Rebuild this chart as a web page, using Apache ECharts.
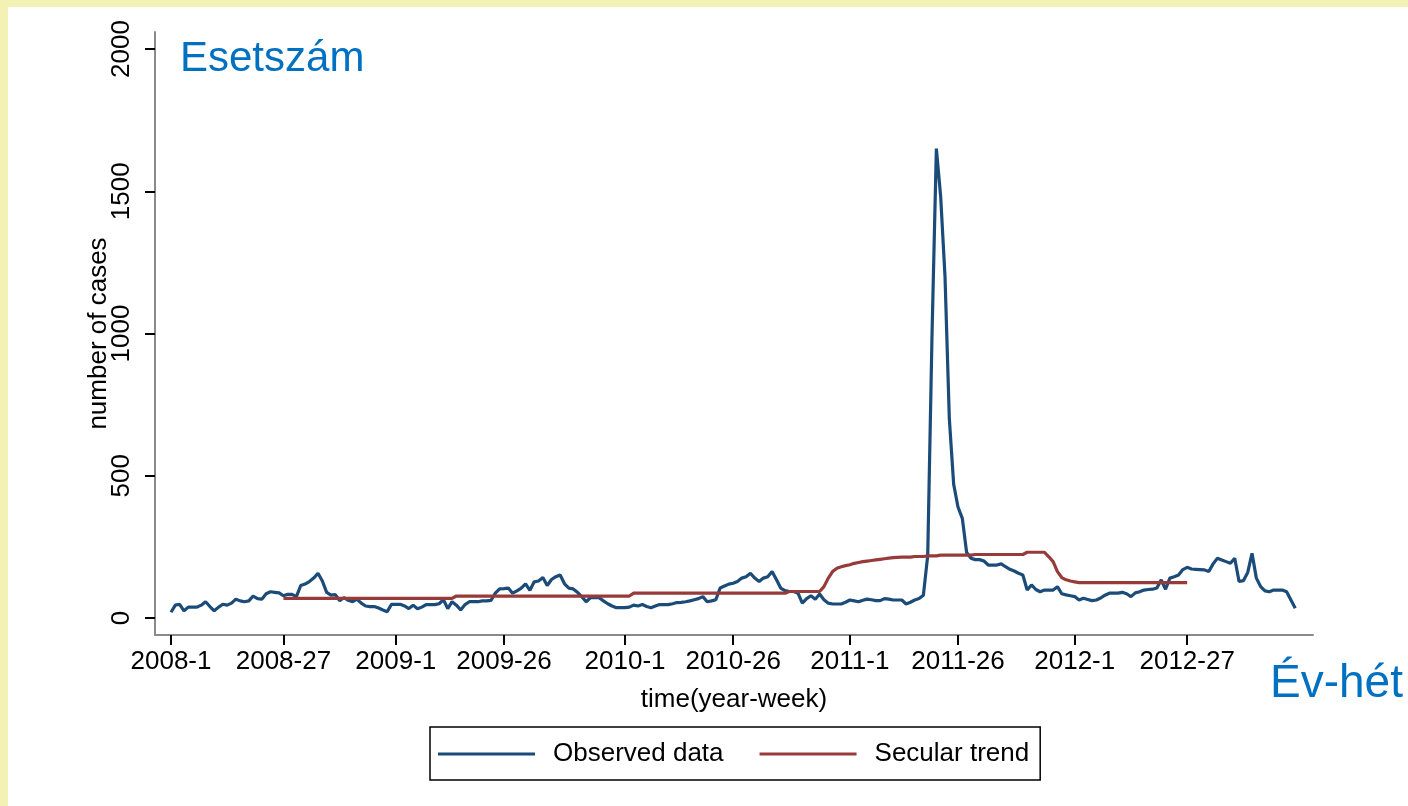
<!DOCTYPE html>
<html><head><meta charset="utf-8">
<script src="https://cdn.jsdelivr.net/npm/echarts@6/dist/echarts.min.js"></script>
<style>html,body{margin:0;padding:0;background:#fff;}#c{width:1408px;height:806px;}</style>
</head><body><div id="c"></div>
<script>
// week index 0 = 2008-1
const tickWeeks = [0, 26, 52, 77, 105, 130, 157, 182, 209, 235];
const tickLabels = ['2008-1','2008-27','2009-1','2009-26','2010-1','2010-26','2011-1','2011-26','2012-1','2012-27'];
const yTicks = [0, 500, 1000, 1500, 2000];

const observed = [
20,45,48,25,38,38,38,45,57,40,25,38,48,45,52,66,60,57,60,77,
68,66,85,92,90,88,78,83,83,75,114,119,128,140,157,130,90,80,82,61,
71,62,57,66,52,42,40,40,35,28,22,48,48,48,42,33,45,32,38,47,
47,47,50,64,33,57,45,28,47,57,57,57,60,60,62,87,102,103,105,87,
95,105,120,97,127,130,142,114,135,145,151,120,105,102,90,75,57,71,71,71,
60,50,42,36,36,36,38,45,42,47,40,36,42,47,47,47,50,54,55,57,
60,64,68,75,57,60,64,105,112,119,122,128,140,145,157,140,128,140,145,163,
135,105,96,93,93,87,52,68,78,66,84,64,52,49,49,49,55,63,60,57,
62,66,64,61,61,68,66,63,63,63,49,55,63,68,80,220,1000,1650,1480,1200,
700,470,390,350,230,210,205,205,200,186,186,186,190,180,171,165,157,151,98,116,
100,92,98,98,98,110,85,81,78,75,63,69,65,61,63,70,80,87,87,87,
90,85,75,88,92,98,100,101,105,134,101,140,145,151,170,178,172,171,170,169,
163,190,210,204,198,192,210,128,131,160,227,140,110,95,92,98,98,98,92,63,
34
];
const trend = [].concat(
  new Array(26).fill(null),
  new Array(40).fill(69),   // 26-65
  new Array(41).fill(77),   // 66-106
  new Array(36).fill(87),   // 107-142
  new Array(8).fill(93),    // 143-150
  [110,140,163,175,180,184,187,192,195,198,200,202,204,206,208,210,212,213,214,214,214,216,216,216,218,218,218], // 151-177
  new Array(8).fill(221),   // 178-185
  new Array(12).fill(223),  // 186-197
  new Array(5).fill(231),   // 198-202
  [215,198,163,142,134,130,127], // 203-209
  new Array(26).fill(124)   // 210-235
);

const hFont = 'Liberation Sans';
const hSize = 26;

const obsData = observed.map((v,i)=>[i,v]);
const trendData = trend.map((v,i)=>[i,v]);
const blue = '#1B4B78', red = '#973A3A';

const chart = echarts.init(document.getElementById('c'), null, {renderer:'canvas'});
chart.setOption({
  backgroundColor: '#F3F2B4',
  animation: false,
  graphic: [{type:'rect', z:-10, shape:{x:8,y:7,width:1400,height:799}, style:{fill:'#ffffff'}}],
  title: [
    {text:'Esetszám', left:180, top:38, padding:0, textStyle:{fontFamily:'Liberation Sans', fontSize:42, fontWeight:'normal', color:'#0070C0'}},
    {text:'Év-hét', left:1270, top:661, padding:0, textStyle:{fontFamily:'Liberation Sans', fontSize:46, fontWeight:'normal', color:'#0070C0'}}
  ],
  grid: {left:155, right:95, top:32, bottom:171, containLabel:false},
  xAxis: {
    type:'value', min:-3.7, max:264.1,
    name:'time(year-week)', nameLocation:'middle', nameGap:52, nameMoveOverlap:false,
    nameTextStyle:{fontFamily:hFont, fontSize:hSize, color:'#000'},
    axisLine:{onZero:false, lineStyle:{color:'#8a8a8a', width:2}},
    axisTick:{show:true, customValues:tickWeeks, length:10, lineStyle:{color:'#000', width:2}},
    axisLabel:{customValues:tickWeeks, margin:14, fontFamily:hFont, fontSize:hSize, color:'#000',
      formatter:(v)=>{const k=tickWeeks.indexOf(Math.round(v)); return k>=0?tickLabels[k]:'';}},
    splitLine:{show:false}
  },
  yAxis: {
    type:'value', min:-60, max:2060,
    name:'number of cases', nameLocation:'middle', nameGap:43, nameRotate:90, nameMoveOverlap:false,
    nameTextStyle:{fontFamily:'Liberation Sans', fontSize:26, color:'#000'},
    axisLine:{show:true, onZero:false, lineStyle:{color:'#8a8a8a', width:2}},
    axisTick:{show:true, customValues:yTicks, length:10, lineStyle:{color:'#000', width:2}},
    axisLabel:{customValues:yTicks, rotate:90, margin:20, fontFamily:'Liberation Sans', fontSize:26, color:'#000',
      formatter:(v)=>String(v)},
    splitLine:{show:false}
  },
  legend: {
    left:430, top:727, orient:'horizontal', icon:'rect',
    borderColor:'#000', borderWidth:1.5, padding:[14,11,13,8],
    itemWidth:97, itemHeight:3, itemGap:36,
    textStyle:{fontFamily:hFont, fontSize:hSize, color:'#000', padding:[0,0,0,13]},
    data:['Observed data','Secular trend']
  },
  series: [
    {name:'Observed data', type:'line', data:obsData, symbol:'none', smooth:false,
     lineStyle:{color:blue, width:3.2}, itemStyle:{color:blue}, z:2},
    {name:'Secular trend', type:'line', data:trendData, symbol:'none', smooth:false, connectNulls:false,
     lineStyle:{color:red, width:3.2}, itemStyle:{color:red}, z:3}
  ]
});
</script></body></html>
